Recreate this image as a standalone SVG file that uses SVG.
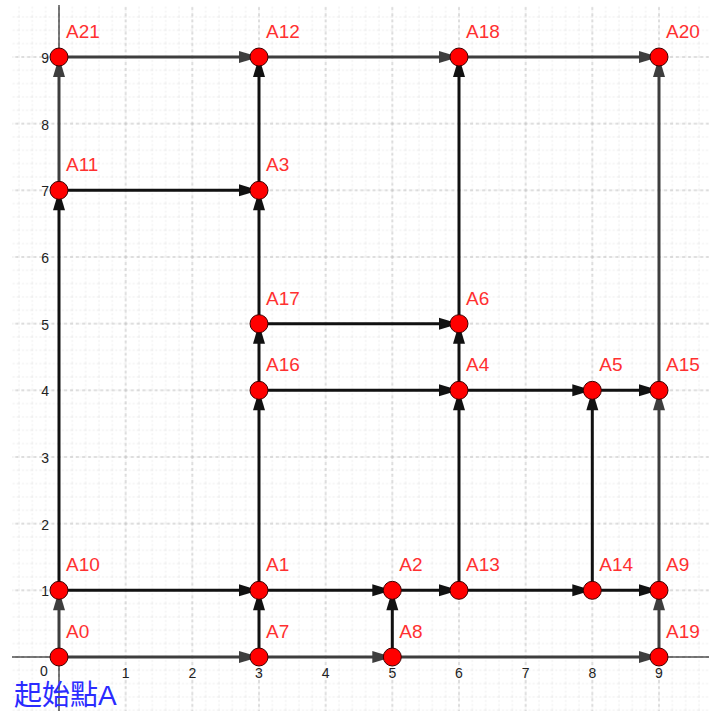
<svg xmlns="http://www.w3.org/2000/svg" width="709" height="711" viewBox="0 0 709 711">
<style>
.k{stroke:#111;stroke-width:3;fill:none;marker-end:url(#ak)}
.g{stroke:#3e3e3e;stroke-width:3;fill:none;marker-end:url(#ag)}
.pt{fill:#ff0000;stroke:#3a0000;stroke-width:1}
.lb{font-family:"Liberation Sans",Arial,sans-serif;font-size:19px;fill:#ff3030}
.ax{font-family:"Liberation Sans",Arial,sans-serif;font-size:14px;fill:#222}
</style>
<defs>
<pattern id="minor" patternUnits="userSpaceOnUse" x="58" y="56" width="13.3333" height="13.3333">
<path d="M1,0 V13.3333 M0,1 H13.3333" stroke="#ececec" stroke-width="1" stroke-dasharray="2,2" fill="none"/>
</pattern>
<pattern id="major" patternUnits="userSpaceOnUse" x="58" y="56" width="66.6667" height="66.6667">
<path d="M1,0 V66.6667 M0,1 H66.6667" stroke="#c2c2c2" stroke-width="1" stroke-dasharray="3,3" fill="none"/>
</pattern>
<marker id="ak" markerUnits="userSpaceOnUse" viewBox="-22 -8 24 16" markerWidth="24" markerHeight="16" refX="0" refY="0" orient="auto">
<path d="M0,0 L-20,-6 L-20,6 Z" fill="#111"/>
</marker>
<marker id="ag" markerUnits="userSpaceOnUse" viewBox="-22 -8 24 16" markerWidth="24" markerHeight="16" refX="0" refY="0" orient="auto">
<path d="M0,0 L-20,-6 L-20,6 Z" fill="#3e3e3e"/>
</marker>
</defs>
<rect x="0" y="0" width="709" height="711" fill="#fff"/>
<g id="grid">
<rect x="12" y="5" width="697" height="706" fill="url(#minor)"/>
<rect x="12" y="5" width="697" height="706" fill="url(#major)"/>
</g>
<g id="axes">
<path d="M12,657 H709 M59,5 V711" stroke="#000" stroke-width="1" fill="none"/>
<g class="ax" text-anchor="middle">
<text x="44" y="676">0</text>
<text x="125.7" y="678">1</text>
<text x="192.3" y="678">2</text>
<text x="259" y="678">3</text>
<text x="325.7" y="678">4</text>
<text x="392.3" y="678">5</text>
<text x="459" y="678">6</text>
<text x="525.7" y="678">7</text>
<text x="592.3" y="678">8</text>
<text x="659" y="678">9</text>
</g>
<g class="ax" text-anchor="end">
<text x="49" y="596">1</text>
<text x="49" y="530">2</text>
<text x="49" y="463">3</text>
<text x="49" y="396">4</text>
<text x="49" y="330">5</text>
<text x="49" y="263">6</text>
<text x="49" y="196">7</text>
<text x="49" y="130">8</text>
<text x="49" y="63">9</text>
</g>
</g>
<g id="connectors">
<line class="g" x1="59" y1="657" x2="259" y2="657"/>
<line class="g" x1="259" y1="657" x2="392.3" y2="657"/>
<line class="g" x1="392.3" y1="657" x2="659" y2="657"/>
<line class="g" x1="59" y1="657" x2="59" y2="590.3"/>
<line class="k" x1="259" y1="657" x2="259" y2="590.3"/>
<line class="k" x1="392.3" y1="657" x2="392.3" y2="590.3"/>
<line class="g" x1="659" y1="657" x2="659" y2="590.3"/>
<line class="k" x1="59" y1="590.3" x2="259" y2="590.3"/>
<line class="k" x1="259" y1="590.3" x2="392.3" y2="590.3"/>
<line class="k" x1="392.3" y1="590.3" x2="459" y2="590.3"/>
<line class="k" x1="459" y1="590.3" x2="592.3" y2="590.3"/>
<line class="k" x1="592.3" y1="590.3" x2="659" y2="590.3"/>
<line class="k" x1="59" y1="590.3" x2="59" y2="190.3"/>
<line class="k" x1="259" y1="590.3" x2="259" y2="390.3"/>
<line class="k" x1="459" y1="590.3" x2="459" y2="390.3"/>
<line class="k" x1="592.3" y1="590.3" x2="592.3" y2="390.3"/>
<line class="g" x1="659" y1="590.3" x2="659" y2="390.3"/>
<line class="k" x1="259" y1="390.3" x2="459" y2="390.3"/>
<line class="k" x1="459" y1="390.3" x2="592.3" y2="390.3"/>
<line class="k" x1="592.3" y1="390.3" x2="659" y2="390.3"/>
<line class="k" x1="259" y1="390.3" x2="259" y2="323.7"/>
<line class="k" x1="459" y1="390.3" x2="459" y2="323.7"/>
<line class="k" x1="259" y1="323.7" x2="459" y2="323.7"/>
<line class="k" x1="259" y1="323.7" x2="259" y2="190.3"/>
<line class="k" x1="59" y1="190.3" x2="259" y2="190.3"/>
<line class="k" x1="259" y1="190.3" x2="259" y2="57"/>
<line class="k" x1="459" y1="323.7" x2="459" y2="57"/>
<line class="g" x1="659" y1="390.3" x2="659" y2="57"/>
<line class="g" x1="59" y1="190.3" x2="59" y2="57"/>
<line class="g" x1="59" y1="57" x2="259" y2="57"/>
<line class="g" x1="259" y1="57" x2="459" y2="57"/>
<line class="g" x1="459" y1="57" x2="659" y2="57"/>
</g>
<g id="A0"><circle class="pt" cx="59" cy="657" r="9"/><text class="lb" x="66" y="638">A0</text></g>
<g id="A7"><circle class="pt" cx="259" cy="657" r="9"/><text class="lb" x="266" y="638">A7</text></g>
<g id="A8"><circle class="pt" cx="392.3" cy="657" r="9"/><text class="lb" x="399.3" y="638">A8</text></g>
<g id="A19"><circle class="pt" cx="659" cy="657" r="9"/><text class="lb" x="666" y="638">A19</text></g>
<g id="A10"><circle class="pt" cx="59" cy="590.3" r="9"/><text class="lb" x="66" y="571.3">A10</text></g>
<g id="A1"><circle class="pt" cx="259" cy="590.3" r="9"/><text class="lb" x="266" y="571.3">A1</text></g>
<g id="A2"><circle class="pt" cx="392.3" cy="590.3" r="9"/><text class="lb" x="399.3" y="571.3">A2</text></g>
<g id="A13"><circle class="pt" cx="459" cy="590.3" r="9"/><text class="lb" x="466" y="571.3">A13</text></g>
<g id="A14"><circle class="pt" cx="592.3" cy="590.3" r="9"/><text class="lb" x="599.3" y="571.3">A14</text></g>
<g id="A9"><circle class="pt" cx="659" cy="590.3" r="9"/><text class="lb" x="666" y="571.3">A9</text></g>
<g id="A16"><circle class="pt" cx="259" cy="390.3" r="9"/><text class="lb" x="266" y="371.3">A16</text></g>
<g id="A4"><circle class="pt" cx="459" cy="390.3" r="9"/><text class="lb" x="466" y="371.3">A4</text></g>
<g id="A5"><circle class="pt" cx="592.3" cy="390.3" r="9"/><text class="lb" x="599.3" y="371.3">A5</text></g>
<g id="A15"><circle class="pt" cx="659" cy="390.3" r="9"/><text class="lb" x="666" y="371.3">A15</text></g>
<g id="A17"><circle class="pt" cx="259" cy="323.7" r="9"/><text class="lb" x="266" y="304.7">A17</text></g>
<g id="A6"><circle class="pt" cx="459" cy="323.7" r="9"/><text class="lb" x="466" y="304.7">A6</text></g>
<g id="A11"><circle class="pt" cx="59" cy="190.3" r="9"/><text class="lb" x="66" y="171.3">A11</text></g>
<g id="A3"><circle class="pt" cx="259" cy="190.3" r="9"/><text class="lb" x="266" y="171.3">A3</text></g>
<g id="A21"><circle class="pt" cx="59" cy="57" r="9"/><text class="lb" x="66" y="38">A21</text></g>
<g id="A12"><circle class="pt" cx="259" cy="57" r="9"/><text class="lb" x="266" y="38">A12</text></g>
<g id="A18"><circle class="pt" cx="459" cy="57" r="9"/><text class="lb" x="466" y="38">A18</text></g>
<g id="A20"><circle class="pt" cx="659" cy="57" r="9"/><text class="lb" x="666" y="38">A20</text></g>
<g id="start"><text x="14" y="705" font-family="'Liberation Sans','Noto Sans CJK TC',sans-serif" font-size="28" fill="#2b2bff">起始點A</text></g>
</svg>
